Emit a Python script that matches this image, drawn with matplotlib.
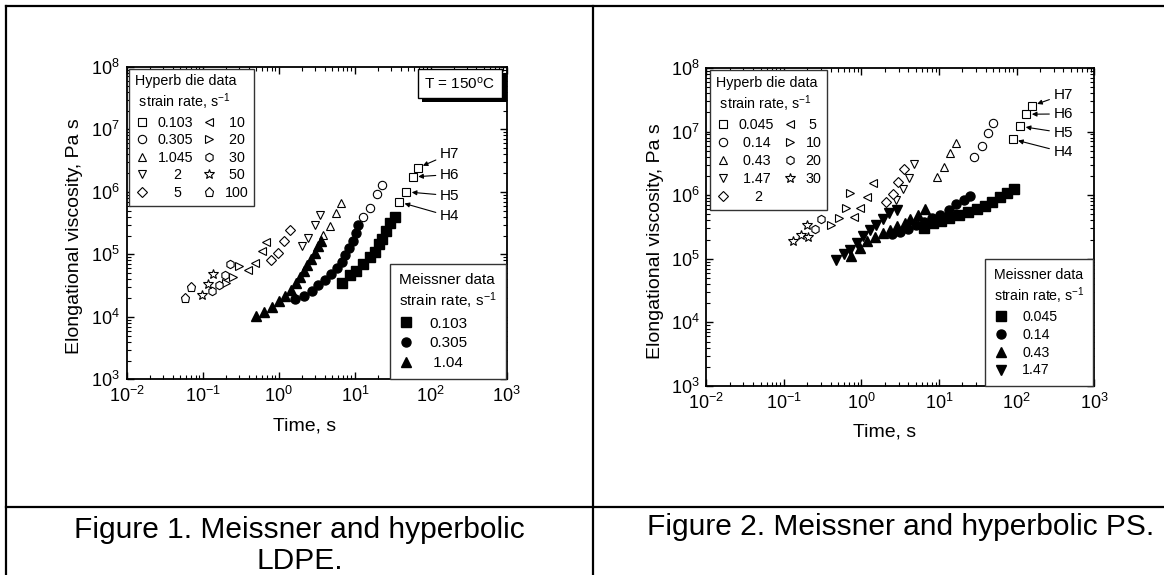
import matplotlib
matplotlib.use('Agg')
import matplotlib.pyplot as plt
import matplotlib.patheffects as pe
from matplotlib.lines import Line2D

plt.rcParams['font.family'] = ['Liberation Sans', 'DejaVu Sans']
plt.rcParams['mathtext.fontset'] = 'custom'
plt.rcParams['mathtext.rm'] = 'Liberation Sans'
plt.rcParams['mathtext.it'] = 'Liberation Sans:italic'
plt.rcParams['mathtext.bf'] = 'Liberation Sans:bold'
plt.rcParams['axes.unicode_minus'] = False

# ---------------- Figure 1: LDPE ----------------
# Meissner rheometer data (filled markers)
ldpe_m_labels = ['0.103', '0.305', '1.04']
ldpe_m_t = [
    [6.7, 8.6, 10.5, 12.7, 15.9, 18.4, 20.6, 23.1, 25.8, 28.9, 34.2],
    [1.64, 2.12, 2.72, 3.32, 4.03, 4.93, 5.84, 6.68, 7.48, 8.37, 9.37, 10.3, 11.1],
    [0.50, 0.63, 0.81, 0.99, 1.21, 1.46, 1.69, 1.90, 2.12, 2.37, 2.66, 2.97, 3.32, 3.64],
]
ldpe_m_eta = [
    [3.45e4, 4.73e4, 5.42e4, 7.13e4, 9.12e4, 1.10e5, 1.45e5, 1.73e5, 2.37e5, 3.20e5, 3.99e5],
    [1.95e4, 2.17e4, 2.55e4, 3.22e4, 3.85e4, 4.85e4, 5.97e4, 7.63e4, 9.62e4, 1.26e5, 1.66e5, 2.19e5, 2.91e5],
    [1.05e4, 1.20e4, 1.44e4, 1.77e4, 2.17e4, 2.73e4, 3.50e4, 4.35e4, 5.42e4, 6.75e4, 8.51e4, 1.07e5, 1.35e5, 1.66e5],
]

# hyperbolic die data (open markers)
ldpe_h_labels = ['0.103', '0.305', '1.045', '2', '5', '10', '20', '30', '50', '100']
ldpe_h_t = [
    [38.4, 47.5, 57.8, 67.3],
    [13.0, 16.0, 19.4, 23.0],
    [3.79, 4.74, 5.65, 6.58],
    [1.99, 2.40, 2.99, 3.45],
    [0.788, 0.982, 1.17, 1.39],
    [0.392, 0.488, 0.600, 0.677],
    [0.201, 0.249, 0.301],
    [0.132, 0.161, 0.196, 0.227],
    [0.0973, 0.118, 0.136],
    [0.0586, 0.0697],
]
ldpe_h_eta = [
    [6.88e5, 1.0e6, 1.73e6, 2.41e6],
    [3.96e5, 5.56e5, 9.31e5, 1.31e6],
    [2.06e5, 2.87e5, 4.59e5, 6.63e5],
    [1.36e5, 1.85e5, 2.92e5, 4.22e5],
    [8.04e4, 1.05e5, 1.65e5, 2.45e5],
    [5.52e4, 7.28e4, 1.13e5, 1.58e5],
    [3.48e4, 4.40e4, 6.40e4],
    [2.55e4, 3.24e4, 4.68e4, 7.09e4],
    [2.24e4, 3.36e4, 4.85e4],
    [2.04e4, 3.01e4],
]
ldpe_tag_eta = [4.05e5, 8.7e5, 1.89e6, 4.03e6]

# ---------------- Figure 2: PS ----------------
ps_m_labels = ['0.045', '0.14', '0.43', '1.47']
ps_m_t = [
    [6.3, 8.3, 10.7, 13.6, 17.9, 23.6, 30.4, 38.8, 48.3, 60.2, 75.1, 93.6],
    [2.47, 3.18, 3.96, 5.05, 6.44, 8.02, 10.3, 13.3, 16.6, 20.7, 25.0],
    [0.734, 0.946, 1.18, 1.50, 1.87, 2.34, 2.91, 3.63, 4.28, 5.34, 6.65],
    [0.473, 0.589, 0.711, 0.867, 1.06, 1.27, 1.54, 1.87, 2.29, 2.85],
]
ps_m_eta = [
    [3.1e5, 3.6e5, 3.9e5, 4.4e5, 4.9e5, 5.4e5, 6.0e5, 6.7e5, 7.9e5, 9.4e5, 1.1e6, 1.25e6],
    [2.47e5, 2.64e5, 2.90e5, 3.45e5, 3.79e5, 4.34e5, 4.96e5, 5.90e5, 7.22e5, 8.49e5, 9.71e5],
    [1.10e5, 1.48e5, 1.88e5, 2.21e5, 2.53e5, 2.82e5, 3.23e5, 3.69e5, 4.22e5, 4.96e5, 6.15e5],
    [9.63e4, 1.18e5, 1.38e5, 1.76e5, 2.31e5, 2.82e5, 3.45e5, 4.22e5, 5.16e5, 5.90e5],
]

ps_h_labels = ['0.045', '0.14', '0.43', '1.47', '2', '5', '10', '20', '30']
ps_h_t = [
    [88.7, 111, 133, 157],
    [28.2, 36.1, 42.8, 50.0],
    [9.33, 11.6, 13.8, 16.6],
    [2.79, 3.43, 4.10, 4.75],
    [2.07, 2.53, 2.98, 3.53],
    [0.806, 0.957, 1.17, 1.42],
    [0.404, 0.518, 0.632, 0.712],
    [0.252, 0.302],
    [0.204],
]
ps_h_eta = [
    [7.57e6, 1.21e7, 1.87e7, 2.54e7],
    [3.93e6, 5.92e6, 9.37e6, 1.38e7],
    [1.91e6, 2.80e6, 4.55e6, 6.67e6],
    [8.39e5, 1.25e6, 1.86e6, 3.08e6],
    [7.71e5, 1.04e6, 1.63e6, 2.58e6],
    [4.58e5, 6.21e5, 9.25e5, 1.57e6],
    [3.39e5, 4.33e5, 6.35e5, 1.09e6],
    [2.93e5, 4.2e5],
    [2.17e5],
]
# stars in Fig. 2 that have no legend entry
ps_star_t = [0.132, 0.165, 0.201]
ps_star_eta = [1.9e5, 2.33e5, 3.37e5]
ps_tag_eta = [4.73e6, 9.5e6, 1.89e7, 3.79e7]

tags = ['H4', 'H5', 'H6', 'H7']
m_filled = ['s', 'o', '^', 'v']
m_open = ['s', 'o', '^', 'v', 'D', '<', '>', 'h', '*', 'p']
ms_open = [5.5, 6, 6, 6, 5, 6, 6, 6, 7, 6.5]


def text_w(s):
    # rough Arial advance widths (em) for digits, '.' and space
    return sum(0.278 if c in '. ' else 0.556 for c in s)


def center_col(labels):
    wmax = max(text_w(s) for s in labels)
    return [' ' * int(round((wmax - text_w(s)) / 2 / 0.278)) + s for s in labels]


def style_axes(ax):
    ax.set_xscale('log')
    ax.set_yscale('log')
    ax.set_xlim(1e-2, 1e3)
    ax.set_ylim(1e3, 1e8)
    ax.tick_params(which='both', direction='in', top=True, right=True,
                   labelsize=13, pad=5)
    ax.tick_params(which='major', length=5, width=1)
    ax.tick_params(which='minor', length=2.8, width=0.8)
    for s in ax.spines.values():
        s.set_linewidth(1.3)
    ax.set_xlabel('Time, s', fontsize=14)
    ax.set_ylabel('Elongational viscosity, Pa s', fontsize=14)


def draw_panel(ax, m_t, m_eta, m_lab, h_t, h_eta, h_lab, fs_h, fs_m, anchor_h,
               ls_h, ls_m):
    style_axes(ax)
    hh = []
    for i in range(len(h_t)):
        l, = ax.plot(h_t[i], h_eta[i], ls='none', marker=m_open[i], ms=ms_open[i],
                     mfc='white', mec='k', mew=0.8)
        hh.append(l)
    mh = []
    for i in range(len(m_t)):
        l, = ax.plot(m_t[i], m_eta[i], ls='none', marker=m_filled[i], ms=6.5,
                     mfc='k', mec='k', zorder=3)
        mh.append(l)
    n1 = (len(h_lab) + 1) // 2
    labs = center_col(h_lab[:n1]) + center_col(h_lab[n1:])
    leg1 = ax.legend(hh, labs, ncol=2, loc='upper left', bbox_to_anchor=anchor_h,
                     borderaxespad=0, fontsize=fs_h, fancybox=False, framealpha=1,
                     edgecolor='0.2', title='Hyperb die data\n strain rate, s$^{-1}$',
                     title_fontsize=fs_h, alignment='left', handlelength=1.0,
                     handletextpad=0.6, columnspacing=0.6, labelspacing=ls_h,
                     borderpad=0.4)
    leg1.get_frame().set_linewidth(1.0)
    ax.add_artist(leg1)
    leg2 = ax.legend(mh, m_lab, loc='lower right', bbox_to_anchor=(0.997, 0.0),
                     borderaxespad=0, fontsize=fs_m, fancybox=False, framealpha=1,
                     edgecolor='0.2', title='Meissner data\nstrain rate, s$^{-1}$',
                     title_fontsize=fs_m, alignment='left', handlelength=1.0,
                     handletextpad=1.0, labelspacing=ls_m, borderpad=0.6)
    leg2.get_frame().set_linewidth(1.0)
    return hh


fig = plt.figure(figsize=(11.64, 5.75), dpi=100)

# ---- left panel ----
ax1 = fig.add_axes([0.1091, 0.3402, 0.3262, 0.5436])
draw_panel(ax1, ldpe_m_t, ldpe_m_eta, center_col(ldpe_m_labels), ldpe_h_t,
           ldpe_h_eta, ldpe_h_labels, 10.3, 11, (0.005, 0.994), 0.25, 0.38)
for k in range(4):
    ax1.annotate(tags[k], xy=(ldpe_h_t[0][k], ldpe_h_eta[0][k]),
                 xytext=(132, ldpe_tag_eta[k]), fontsize=11, va='center', ha='left',
                 arrowprops=dict(arrowstyle='-|>', color='k', lw=0.8,
                                 mutation_scale=7, shrinkA=1, shrinkB=4))
t = ax1.text(0.877, 0.947, 'T = 150$^{\\mathrm{o}}$C', transform=ax1.transAxes,
             fontsize=11, ha='center', va='center',
             bbox=dict(boxstyle='square,pad=0.45', fc='white', ec='k', lw=1.0))
t.get_bbox_patch().set_path_effects([
    pe.SimplePatchShadow(offset=(3, -3), shadow_rgbFace='k', alpha=1), pe.Normal()])
ax1.xaxis.set_label_coords(0.468, -0.123)
ax1.xaxis.label.set_va('top')
ax1.yaxis.set_label_coords(-0.115, 0.457)

# ---- right panel ----
ax2 = fig.add_axes([0.6068, 0.3287, 0.3333, 0.5532])
draw_panel(ax2, ps_m_t, ps_m_eta, ps_m_labels, ps_h_t, ps_h_eta,
           ps_h_labels, 10.3, 10.2, (0.0095, 0.992), 0.28, 0.28)
ax2.plot(ps_star_t, ps_star_eta, ls='none', marker='*', ms=7, mfc='white',
         mec='k', mew=0.8)
for k in range(4):
    ax2.annotate(tags[k], xy=(ps_h_t[0][k], ps_h_eta[0][k]),
                 xytext=(298, ps_tag_eta[k]), fontsize=11, va='center', ha='left',
                 arrowprops=dict(arrowstyle='-|>', color='k', lw=0.8,
                                 mutation_scale=7, shrinkA=1, shrinkB=4))
ax2.xaxis.set_label_coords(0.459, -0.117)
ax2.xaxis.label.set_va('top')
ax2.yaxis.set_label_coords(-0.110, 0.455)

# ---- table lines and captions ----
lw_tab = 1.6
fig.add_artist(Line2D([0.0054, 1.0], [0.9903, 0.9903], color='k', lw=lw_tab))
fig.add_artist(Line2D([0.0054, 0.0054], [0.0, 0.9903], color='k', lw=lw_tab))
fig.add_artist(Line2D([0.5095, 0.5095], [0.0, 0.9903], color='k', lw=lw_tab))
fig.add_artist(Line2D([0.0054, 1.0], [0.1188, 0.1188], color='k', lw=lw_tab))

fig.text(0.2575, 0.0643, 'Figure 1. Meissner and hyperbolic', fontsize=21.5,
         ha='center', va='baseline')
fig.text(0.2575, 0.0, 'LDPE.', fontsize=21.5, ha='center', va='bottom')
fig.text(0.774, 0.0704, 'Figure 2. Meissner and hyperbolic PS.', fontsize=21.5,
         ha='center', va='baseline')

fig.savefig('out.png', dpi=100)
